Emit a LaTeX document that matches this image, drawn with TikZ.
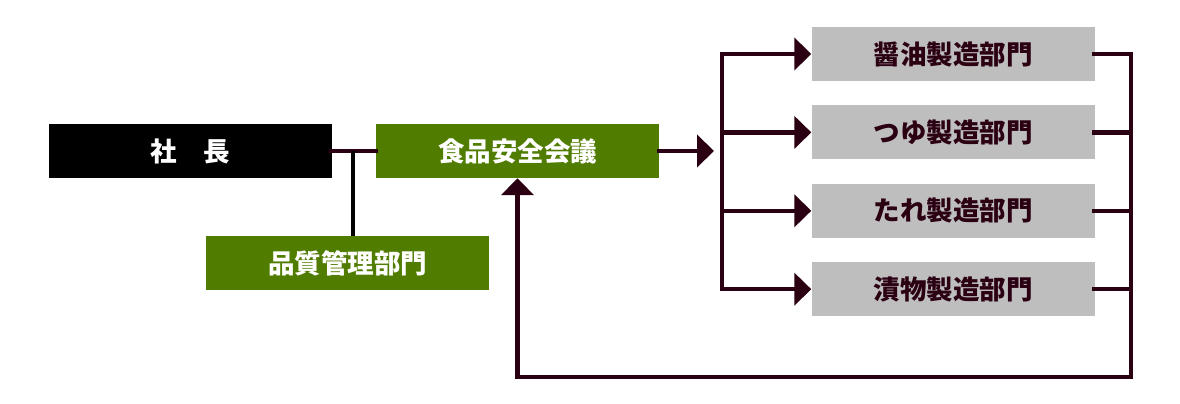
\documentclass[tikz,border=0pt]{standalone}
\usepackage{fontspec}
\newfontfamily\cjk{Noto Sans CJK JP}
\usetikzlibrary{positioning,arrows.meta}
\definecolor{OrgGreen}{HTML}{507C00}
\definecolor{OrgGray}{HTML}{BEBEBE}
\definecolor{OrgLine}{HTML}{2A0012}

\begin{document}
\begin{tikzpicture}[x=1pt,y=-1pt,node distance=24pt,
    >={Triangle[length=17pt,width=32pt]}]
    \tikzstyle{orgbox}=[minimum width=283pt,minimum height=54pt,inner sep=0pt,
      font=\cjk\bfseries\fontsize{26.5}{30}\selectfont]
    \tikzstyle{deptbox}=[orgbox,fill=OrgGray,text=OrgLine]
    \tikzstyle{link}=[color=OrgLine,line width=4.5pt,line cap=rect]
    \useasboundingbox (0,0) rectangle (1180,404);
    \node[orgbox,fill=black,text=white] (ceo) at (190,151) {社　長};
    \node[orgbox,fill=OrgGreen,text=white] (council) at (517.5,151) {食品安全会議};
    \node[orgbox,fill=OrgGreen,text=white] (qa) at (347.5,263) {品質管理部門};
    \node[deptbox] (d1) at (953,54) {醤油製造部門};
    \node[deptbox,below=of d1] (d2) {つゆ製造部門};
    \node[deptbox,below=of d2] (d3) {たれ製造部門};
    \node[deptbox,below=of d3] (d4) {漬物製造部門};
    \coordinate (tee) at (353,151);
    \coordinate (lbus) at (722,0);
    \coordinate (rbus) at (1131,0);
    \coordinate (loop) at (517.5,377);
    \draw[link] (ceo) -- (council);
    \draw[link,color=black,line cap=butt] (tee) -- (tee |- qa.north);
    \draw[link,->,shorten >=8pt] (council) -- (council.east -| lbus);
    \draw[link] (d1.west -| lbus) -- (d4.west -| lbus);
    \foreach \d in {d1,d2,d3,d4}
      \draw[link,->] (\d.west -| lbus) -- (\d.west);
    \draw[link,->] (d1.east) -| (rbus |- loop) -| (council.south);
    \foreach \d in {d2,d3,d4}
      \draw[link] (\d.east) -- (\d.east -| rbus);
  \end{tikzpicture}
\end{document}
